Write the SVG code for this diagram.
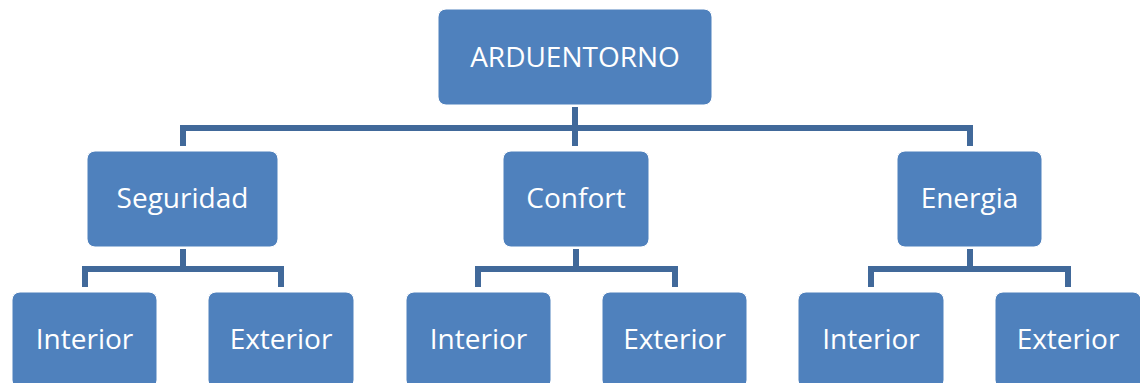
<svg xmlns="http://www.w3.org/2000/svg" width="1140" height="383" viewBox="0 0 1140 383">
  <style>
    .box { fill: #4F81BD; stroke: #FFFFFF; stroke-width: 1; }
    .label { fill: #FFFFFF; font-family: "Open Sans", "Liberation Sans", sans-serif; font-size: 28px; text-anchor: middle; }
    .link { fill: none; stroke: #41699A; stroke-width: 6; stroke-linejoin: miter; stroke-linecap: butt; }
  </style>
  <rect width="1140" height="383" fill="#FFFFFF"/>

  <!-- connectors -->
  <g id="connectors">
    <path class="link" d="M575 107 V146"/>
    <path class="link" d="M183 146 V128 H970 V146"/>
    <path class="link" d="M183 249 V269"/>
    <path class="link" d="M85 287 V269 H281 V287"/>
    <path class="link" d="M576 249 V269"/>
    <path class="link" d="M478 287 V269 H675 V287"/>
    <path class="link" d="M970 249 V269"/>
    <path class="link" d="M871 287 V269 H1068 V287"/>
  </g>

  <!-- root -->
  <g id="node-arduentorno">
    <rect class="box" x="438" y="9" width="274" height="96" rx="8"/>
    <text class="label" x="575" y="67">ARDUENTORNO</text>
  </g>

  <!-- second level -->
  <g id="node-seguridad">
    <rect class="box" x="87" y="151" width="191" height="96" rx="8"/>
    <text class="label" x="182.5" y="208">Seguridad</text>
  </g>
  <g id="node-confort">
    <rect class="box" x="503" y="151" width="146" height="96" rx="8"/>
    <text class="label" x="576" y="208">Confort</text>
  </g>
  <g id="node-energia">
    <rect class="box" x="897" y="151" width="145" height="96" rx="8"/>
    <text class="label" x="969.5" y="208">Energia</text>
  </g>

  <!-- third level -->
  <g id="node-seguridad-interior">
    <rect class="box" x="12" y="292" width="145" height="96" rx="8"/>
    <text class="label" x="84.5" y="349">Interior</text>
  </g>
  <g id="node-seguridad-exterior">
    <rect class="box" x="208" y="292" width="146" height="96" rx="8"/>
    <text class="label" x="281" y="349">Exterior</text>
  </g>
  <g id="node-confort-interior">
    <rect class="box" x="406" y="292" width="145" height="96" rx="8"/>
    <text class="label" x="478.5" y="349">Interior</text>
  </g>
  <g id="node-confort-exterior">
    <rect class="box" x="602" y="292" width="145" height="96" rx="8"/>
    <text class="label" x="674.5" y="349">Exterior</text>
  </g>
  <g id="node-energia-interior">
    <rect class="box" x="798" y="292" width="146" height="96" rx="8"/>
    <text class="label" x="871" y="349">Interior</text>
  </g>
  <g id="node-energia-exterior">
    <rect class="box" x="995" y="292" width="146" height="96" rx="8"/>
    <text class="label" x="1068" y="349">Exterior</text>
  </g>
</svg>
